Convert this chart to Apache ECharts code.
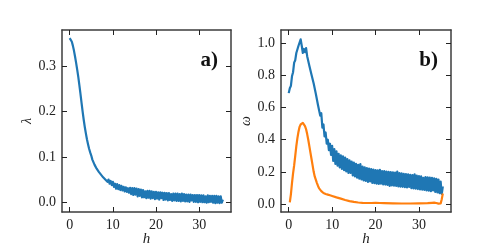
<!DOCTYPE html>
<html><head><meta charset="utf-8">
<script src="https://cdn.jsdelivr.net/npm/echarts@6/dist/echarts.min.js"></script>
<style>html,body{margin:0;padding:0;background:#fff}#c{width:500px;height:250px}</style>
</head><body><div id="c"></div>
<script>
const hGrid = [0,0.25,0.5,0.75,1,1.25,1.5,1.75,2,2.25,2.5,2.75,3,3.25,3.5,3.75,4,4.25,4.5,4.75,5,5.25,5.5,5.75,6,6.25,6.5,6.75,7,7.25,7.5,7.75,8,8.25,8.5,8.75,9,9.25,9.5,9.75,10,10.25,10.5,10.75,11,11.25,11.5,11.75,12,12.25,12.5,12.75,13,13.25,13.5,13.75,14,14.25,14.5,14.75,15,15.25,15.5,15.75,16,16.25,16.5,16.75,17,17.25,17.5,17.75,18,18.25,18.5,18.75,19,19.25,19.5,19.75,20,20.25,20.5,20.75,21,21.25,21.5,21.75,22,22.25,22.5,22.75,23,23.25,23.5,23.75,24,24.25,24.5,24.75,25,25.25,25.5,25.75,26,26.25,26.5,26.75,27,27.25,27.5,27.75,28,28.25,28.5,28.75,29,29.25,29.5,29.75,30,30.25,30.5,30.75,31,31.25,31.5,31.75,32,32.25,32.5,32.75,33,33.25,33.5,33.75,34,34.25,34.5,34.75,35,35.25,35.5];

const lambdaValues = [0.362,0.360,0.354,0.345,0.334,0.321,0.307,0.292,0.276,0.258,0.239,0.219,0.200,0.182,0.166,0.152,0.139,0.128,0.118,0.110,
0.103,0.094,0.092,0.083,0.082,0.074,0.076,0.067,0.069,0.061,0.063,0.055,0.059,0.050,0.054,0.045,0.050,0.041,0.047,0.038,
0.045,0.034,0.041,0.030,0.040,0.029,0.038,0.027,0.036,0.026,0.034,0.024,0.033,0.023,0.031,0.021,0.032,0.018,0.031,0.016,
0.031,0.017,0.030,0.013,0.029,0.014,0.028,0.011,0.027,0.011,0.024,0.009,0.025,0.010,0.025,0.008,0.024,0.009,0.023,0.007,
0.023,0.008,0.022,0.006,0.022,0.009,0.021,0.005,0.021,0.006,0.020,0.004,0.020,0.005,0.018,0.003,0.019,0.004,0.019,0.003,
0.019,0.003,0.018,0.002,0.019,0.003,0.018,0.002,0.017,0.002,0.017,0.001,0.017,0.004,0.016,0.001,0.016,0.001,0.016,0.000,
0.016,0.001,0.015,0.000,0.015,0.000,0.013,-0.001,0.015,0.000,0.014,0.001,0.014,-0.001,0.014,-0.002,0.014,-0.001,0.013,-0.002,
0.013,-0.001,0.006];

const omegaValues = [0.69,0.72,0.735,0.795,0.82,0.88,0.895,0.94,0.945,0.985,0.975,1.025,0.985,0.94,0.965,0.945,0.97,0.92,0.925,0.86,
0.855,0.805,0.81,0.75,0.75,0.685,0.69,0.615,0.625,0.55,0.565,0.475,0.495,0.42,0.445,0.375,0.40,0.335,0.375,0.305,
0.362,0.268,0.342,0.25,0.327,0.238,0.312,0.228,0.302,0.218,0.297,0.21,0.288,0.202,0.28,0.193,0.272,0.193,0.264,0.178,
0.257,0.171,0.25,0.164,0.244,0.158,0.248,0.153,0.232,0.146,0.228,0.143,0.224,0.138,0.22,0.14,0.217,0.131,0.214,0.129,
0.211,0.126,0.209,0.125,0.212,0.126,0.204,0.122,0.204,0.121,0.202,0.119,0.2,0.112,0.199,0.115,0.197,0.114,0.195,0.112,
0.202,0.11,0.192,0.108,0.19,0.107,0.188,0.105,0.186,0.103,0.184,0.106,0.182,0.099,0.18,0.097,0.185,0.095,0.176,0.093,
0.174,0.091,0.172,0.089,0.163,0.087,0.168,0.085,0.166,0.083,0.164,0.08,0.162,0.084,0.159,0.075,0.157,0.072,0.152,0.067,
0.14,0.062,0.11];

const omegaMeanH = [0.25,0.5,0.75,1,1.25,1.5,1.75,2,2.25,2.5,2.75,3,3.25,3.5,3.75,4,4.25,4.5,4.75,5,5.25,5.5,5.75,6,6.25,6.5,6.75,7,7.5,8,8.5,9,9.5,10,11,12,13,14,15,16,17,18,19,20,21,22,24,26,28,30,32,33,33.5,34,34.5,35,35.25,35.5];
const omegaMeanV = [0.01,0.06,0.13,0.19,0.24,0.30,0.36,0.41,0.45,0.48,0.495,0.503,0.505,0.50,0.485,0.465,0.435,0.40,0.36,0.32,0.28,0.24,0.20,0.17,0.15,0.13,0.112,0.097,0.08,0.068,0.062,0.058,0.054,0.05,0.041,0.033,0.025,0.018,0.013,0.009,0.007,0.006,0.006,0.007,0.006,0.005,0.004,0.003,0.003,0.004,0.005,0.007,0.008,0.006,0.002,0.003,0.03,0.065];

const xTicks = [0,10,20,30];
const lambdaTicks = [0,0.1,0.2,0.3];
const omegaTicks = [0,0.2,0.4,0.6,0.8,1.0];

const FONT = 'Liberation Serif';
const frameColor = '#3c3c3c';
function xAx(grid, pos, labels, name){
  return {type:'value', gridIndex:grid, position:pos, min:-1.78, max:37.38,
    axisLine:{show:true, onZero:false, lineStyle:{color:frameColor, width:1.5}},
    axisTick:{show:true, inside:true, length:5, customValues:xTicks, lineStyle:{color:'#222', width:1}},
    axisLabel:{show:labels, customValues:xTicks, margin:6, color:'#222', fontFamily:FONT, fontSize:14},
    splitLine:{show:false},
    name: name, nameLocation:'middle', nameGap:20, nameMoveOverlap:false,
    nameTextStyle:{fontFamily:FONT, fontStyle:'italic', fontSize:15, color:'#222'}};
}
function yAx(grid, pos, labels, min, max, ticks, name){
  return {type:'value', gridIndex:grid, position:pos, min:min, max:max,
    axisLine:{show:true, onZero:false, lineStyle:{color:frameColor, width:1.5}},
    axisTick:{show:true, inside:true, length:5, customValues:ticks, lineStyle:{color:'#222', width:1}},
    axisLabel:{show:labels, customValues:ticks, margin:6, color:'#222', fontFamily:FONT, fontSize:14,
      formatter:v=>v.toFixed(1)},
    splitLine:{show:false},
    name: name, nameLocation:'middle', nameGap:28, nameRotate:90,
    nameTextStyle:{fontFamily:FONT, fontStyle:'italic', fontSize:14, color:'#222'}};
}

const chart = echarts.init(document.getElementById('c'), null, {renderer:'canvas'});
chart.setOption({
  animation:false,
  backgroundColor:'#fff',
  grid:[{left:62, top:30, width:169, height:182, containLabel:false, outerBoundsMode:'none'},
        {left:281, top:30, width:170, height:182, containLabel:false, outerBoundsMode:'none'}],
  xAxis:[xAx(0,'bottom',true,'h'), xAx(0,'top',false,''), xAx(1,'bottom',true,'h'), xAx(1,'top',false,'')],
  yAxis:[yAx(0,'left',true,-0.0215,0.38,lambdaTicks,'λ'), yAx(0,'right',false,-0.0215,0.38,lambdaTicks,''),
         yAx(1,'left',true,-0.05,1.083,omegaTicks,'ω'), yAx(1,'right',false,-0.05,1.083,omegaTicks,'')],
  series:[
    {type:'line', xAxisIndex:0, yAxisIndex:0, data:hGrid.map((h,i)=>[h,lambdaValues[i]]),
     showSymbol:false, symbol:'none', lineStyle:{color:'#1f77b4', width:2.2, join:'round'}, z:2},
    {type:'line', xAxisIndex:2, yAxisIndex:2, data:hGrid.map((h,i)=>[h,omegaValues[i]]),
     showSymbol:false, symbol:'none', lineStyle:{color:'#1f77b4', width:2.2, join:'round'}, z:2},
    {type:'line', xAxisIndex:2, yAxisIndex:2, data:omegaMeanH.map((h,i)=>[h,omegaMeanV[i]]),
     showSymbol:false, symbol:'none', lineStyle:{color:'#ff7f0e', width:2.2, join:'round'}, z:3}
  ],
  graphic:[
    {type:'text', right:500-218, top:50, style:{text:'a)', font:'bold 21px "Liberation Serif"', fill:'#111'}},
    {type:'text', right:500-438, top:50, style:{text:'b)', font:'bold 21px "Liberation Serif"', fill:'#111'}}
  ]
});
</script></body></html>
